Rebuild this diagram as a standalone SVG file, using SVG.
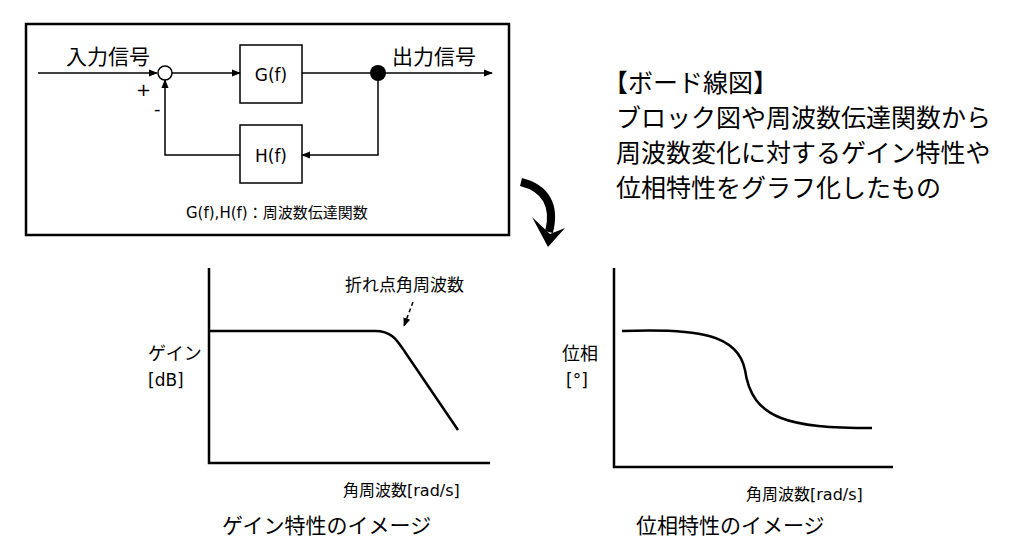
<svg xmlns="http://www.w3.org/2000/svg" width="1024" height="552" viewBox="0 0 1024 552">
<style>
text{font-family:"Noto Sans CJK JP","Noto Sans",sans-serif;fill:#000}
.w{font-family:"DejaVu Sans","Noto Sans CJK JP",sans-serif}
.l{fill:none;stroke:#000;stroke-width:1.5}
.a{fill:none;stroke:#000;stroke-width:2.5}
</style>
<defs><marker id="m" viewBox="0 0 10 10" refX="9" refY="5" markerWidth="6" markerHeight="6" orient="auto"><path d="M0,1L10,5L0,9z"/></marker></defs>
<rect width="1024" height="552" fill="#fff"/>
<rect x="26" y="24" width="483" height="211" class="a"/>
<g id="sum"><circle cx="165" cy="73" r="7" class="l"/></g>
<g id="G"><rect x="240" y="45" width="62" height="58" class="l"/><text class="w" x="271" y="81" font-size="17" text-anchor="middle">G(f)</text></g>
<g id="H"><rect x="240" y="125" width="62" height="58" class="l"/><text class="w" x="271" y="162" font-size="17" text-anchor="middle">H(f)</text></g>
<g id="node"><circle cx="378" cy="73" r="8"/></g>
<g id="connectors">
<line x1="38" y1="73" x2="157" y2="73" class="l" marker-end="url(#m)"/>
<line x1="172" y1="73" x2="240" y2="73" class="l" marker-end="url(#m)"/>
<line x1="302" y1="73" x2="492" y2="73" class="l" marker-end="url(#m)"/>
<polyline points="378,73 378,155 302,155" class="l" marker-end="url(#m)"/>
<polyline points="240,155 165,155 165,80" class="l" marker-end="url(#m)"/>
</g>
<text x="66" y="64" font-size="21">入力信号</text>
<text x="392" y="64" font-size="21">出力信号</text>
<text class="w" x="136" y="96" font-size="18">+</text>
<text class="w" x="154" y="115" font-size="18">-</text>
<text class="w" x="186" y="218" font-size="15">G(f),H(f)：周波数伝達関数</text>
<path d="M521,182 C545,188 556,205 549,232" fill="none" stroke="#000" stroke-width="8"/>
<path d="M532,217 L548,247 L565,228 L550,234 Z"/>
<g font-size="25"><text x="603" y="92">【ボード線図】</text><text x="616" y="127">ブロック図や周波数伝達関数から</text><text x="616" y="162">周波数変化に対するゲイン特性や</text><text x="616" y="197">位相特性をグラフ化したもの</text></g>
<g id="gain">
<polyline points="209,268 209,463 490,463" class="a"/>
<path d="M209,331 L375,331 C392,331 397,340 405,352 L458,430" class="a"/>
<line x1="413" y1="302" x2="404" y2="326" class="l" stroke-dasharray="4,3" marker-end="url(#m)"/>
<text x="345" y="291" font-size="17">折れ点角周波数</text>
<text x="148" y="360" font-size="18">ゲイン</text>
<text class="w" x="148" y="386" font-size="17">[dB]</text>
<text class="w" x="343" y="496" font-size="16">角周波数[rad/s]</text>
<text x="222" y="533" font-size="21">ゲイン特性のイメージ</text>
</g>
<g id="phase">
<polyline points="614,268 614,467 893,467" class="a"/>
<path d="M622,331 C700,328 738,335 745,370 C752,420 790,428 872,428" class="a"/>
<text x="562" y="360" font-size="18">位相</text>
<text class="w" x="566" y="386" font-size="17">[°]</text>
<text class="w" x="746" y="500" font-size="16">角周波数[rad/s]</text>
<text x="636" y="533" font-size="21">位相特性のイメージ</text>
</g>
</svg>
